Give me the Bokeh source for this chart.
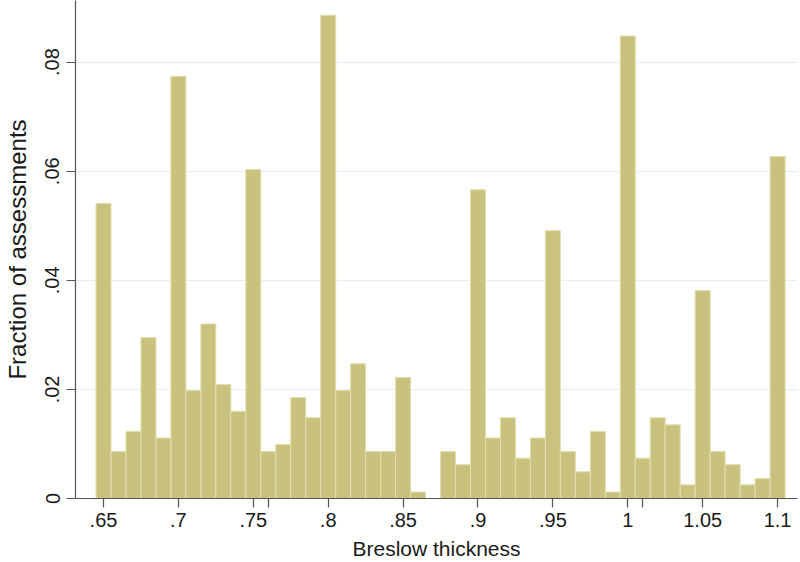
from bokeh.plotting import figure
from bokeh.models import Range1d, FixedTicker
from bokeh.embed import file_html
from bokeh.resources import INLINE

# Histogram bins (bin centres, width 0.01) and fraction of assessments
bin_centers = [0.65, 0.66, 0.67, 0.68, 0.69, 0.70, 0.71, 0.72, 0.73, 0.74,
               0.75, 0.76, 0.77, 0.78, 0.79, 0.80, 0.81, 0.82, 0.83, 0.84,
               0.85, 0.86, 0.87, 0.88, 0.89, 0.90, 0.91, 0.92, 0.93, 0.94,
               0.95, 0.96, 0.97, 0.98, 0.99, 1.00, 1.01, 1.02, 1.03, 1.04,
               1.05, 1.06, 1.07, 1.08, 1.09, 1.10]
fractions = [0.0541, 0.0086, 0.0123, 0.0295, 0.0111, 0.0774, 0.0198, 0.0320, 0.0209, 0.0160,
             0.0603, 0.0086, 0.0099, 0.0185, 0.0148, 0.0886, 0.0198, 0.0247, 0.0086, 0.0086,
             0.0222, 0.0012, 0.0, 0.0086, 0.0062, 0.0566, 0.0111, 0.0148, 0.0074, 0.0111,
             0.0491, 0.0086, 0.0049, 0.0123, 0.0012, 0.0848, 0.0074, 0.0148, 0.0135, 0.0025,
             0.0381, 0.0086, 0.0062, 0.0025, 0.0037, 0.0627]
bin_width = 0.01

x_tick_values = [0.65, 0.70, 0.75, 0.76, 0.80, 0.85, 0.90, 0.95, 1.00, 1.01, 1.05, 1.10]
x_tick_labels = [".65", ".7", ".75", "", ".8", ".85", ".9", ".95", "1", "", "1.05", "1.1"]
y_tick_values = [0.0, 0.02, 0.04, 0.06, 0.08]
y_tick_labels = ["0", ".02", ".04", ".06", ".08"]

FONT = "Liberation Sans"
TXT = "#1a1a1a"
AX = "#555555"

p = figure(width=800, height=562,
           x_range=Range1d(0.6313, 1.1133), y_range=Range1d(0, 0.0913),
           output_backend="svg", toolbar_location=None,
           min_border_left=75, min_border_right=3, min_border_top=0, min_border_bottom=0)

p.vbar(x=bin_centers, top=fractions, width=bin_width, bottom=0,
       fill_color="#C9C27E", line_color="#E2DEAE", line_width=1)

p.outline_line_color = None
p.background_fill_color = "white"
p.border_fill_color = "white"

p.xgrid.grid_line_color = None
p.ygrid.grid_line_color = "#E6F0F3"
p.ygrid.grid_line_width = 1
p.ygrid.ticker = FixedTicker(ticks=y_tick_values)

p.xaxis.ticker = FixedTicker(ticks=x_tick_values)
p.xaxis.major_label_overrides = {v: l for v, l in zip(x_tick_values, x_tick_labels)}
p.yaxis.ticker = FixedTicker(ticks=y_tick_values)
p.yaxis.major_label_overrides = {v: l for v, l in zip(y_tick_values, y_tick_labels)}

for ax in (p.xaxis[0], p.yaxis[0]):
    ax.axis_line_color = AX
    ax.axis_line_width = 1.2
    ax.major_tick_line_color = AX
    ax.major_tick_line_width = 1.2
    ax.major_tick_out = 9
    ax.major_tick_in = 0
    ax.minor_tick_line_color = None
    ax.major_label_text_font = FONT
    ax.major_label_text_font_size = "20px"
    ax.major_label_text_color = TXT
    ax.axis_label_text_font = FONT
    ax.axis_label_text_font_style = "normal"
    ax.axis_label_text_color = TXT

p.xaxis.axis_label = "Breslow thickness"
p.xaxis.axis_label_text_font_size = "21px"
p.xaxis.major_label_standoff = 5
p.xaxis.axis_label_standoff = 7

p.yaxis.axis_label = "Fraction of assessments"
p.yaxis.axis_label_text_font_size = "24px"
p.yaxis.major_label_orientation = "vertical"
p.yaxis.major_label_standoff = 7
p.yaxis.axis_label_standoff = 12

open("out.html", "w").write(file_html(p, INLINE))
